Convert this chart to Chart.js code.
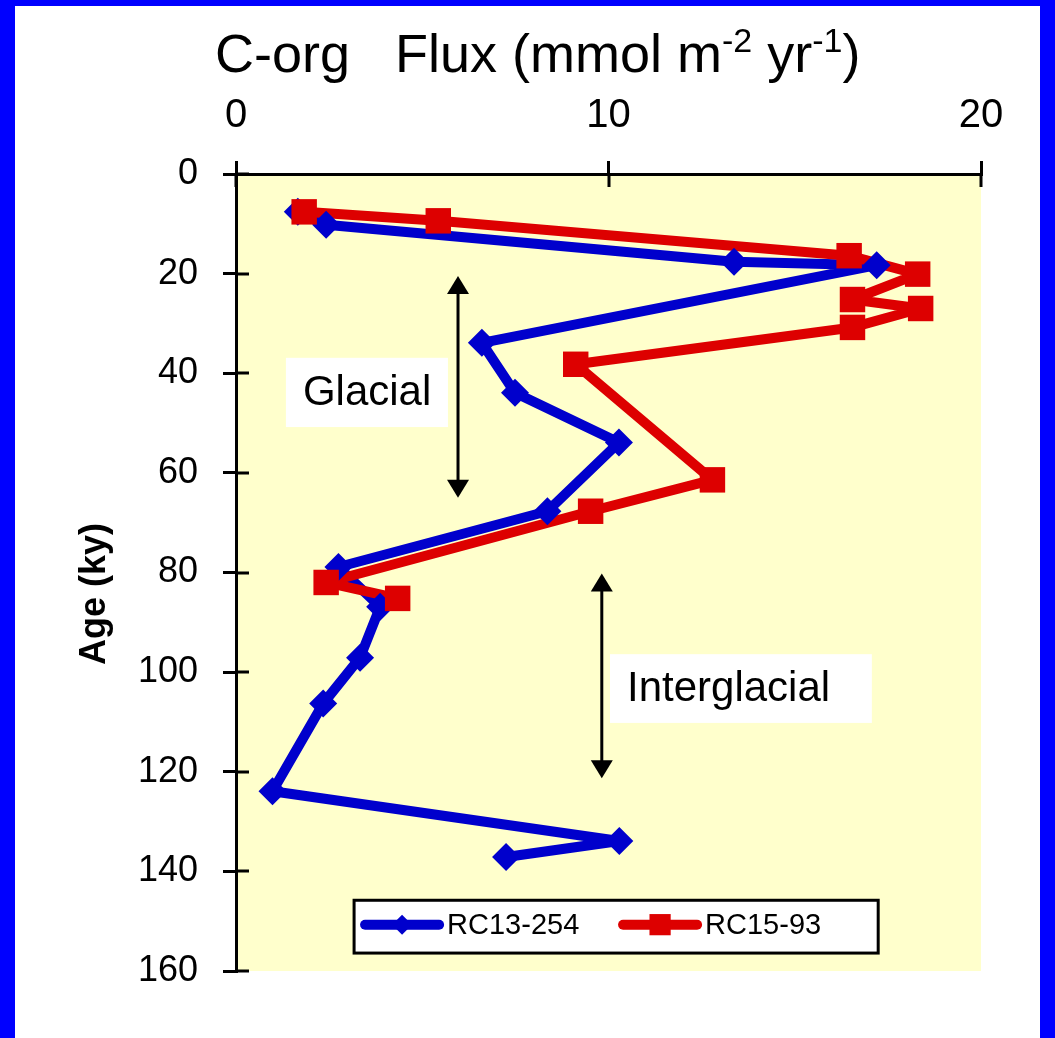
<!DOCTYPE html>
<html>
<head>
<meta charset="utf-8">
<title>C-org Flux</title>
<script src="https://cdn.jsdelivr.net/npm/chart.js@4/dist/chart.umd.min.js"></script>
<style>
  html, body { margin: 0; padding: 0; background: #ffffff; }
  #wrap { position: relative; width: 1055px; height: 1038px; overflow: hidden; background: #ffffff; }
  #chart { position: absolute; left: 0; top: 0; }
  .edge { position: absolute; background: #0000ff; pointer-events: none; }
</style>
</head>
<body>
<div id="wrap">
  <canvas id="chart" width="1055" height="1038"></canvas>
  <div class="edge" style="left:0;top:0;width:15px;height:1038px"></div>
  <div class="edge" style="left:0;top:0;width:1055px;height:6px"></div>
  <div class="edge" style="left:1040px;top:0;width:15px;height:1038px"></div>
</div>
<script>
// Core RC13-254: age (ky) and organic carbon flux (mmol m-2 yr-1)
const rc13Age  = [7.6, 10.2, 17.6, 18.3, 33.9, 43.9, 53.9, 67.7, 78.9, 86.9, 97.1, 106.3, 123.9, 133.9, 137.1];
const rc13Flux = [1.66, 2.42, 13.37, 17.2, 6.6, 7.49, 10.28, 8.36, 2.75, 3.87, 3.33, 2.34, 0.98, 10.29, 7.25];

// Core RC15-93
const rc15Age  = [7.6, 9.4, 16.4, 20.1, 25.2, 27.0, 30.8, 38.2, 61.4, 67.7, 82.0, 85.2];
const rc15Flux = [1.83, 5.43, 16.46, 18.3, 16.55, 18.38, 16.55, 9.12, 12.79, 9.52, 2.42, 4.34];

const seriesNames = ['RC13-254', 'RC15-93'];
const fluxTicks = [0, 10, 20];
const ageTicks = [0, 20, 40, 60, 80, 100, 120, 140, 160];

const titleParts = [
  { text: 'C-org   Flux (mmol m', sup: false },
  { text: '-2', sup: true },
  { text: ' yr', sup: false },
  { text: '-1', sup: true },
  { text: ')', sup: false }
];
const ageTitle = 'Age (ky)';
const periodLabels = ['Glacial', 'Interglacial'];

const FONT = '"Liberation Sans", Arial, Helvetica, sans-serif';
const BLUE = '#0000cc';
const RED = '#dd0000';

const toPoints = (xs, ys) => xs.map((v, i) => ({ x: v, y: ys[i] }));

// Lines are drawn first for both cores, markers on top of all lines.
const lineStyle = { showLine: true, pointRadius: 0, borderWidth: 10, borderJoinStyle: 'round', borderCapStyle: 'round', fill: false };
const datasets = [
  Object.assign({ label: seriesNames[0] + ' line', data: toPoints(rc13Flux, rc13Age), borderColor: BLUE, order: 4 }, lineStyle),
  Object.assign({ label: seriesNames[1] + ' line', data: toPoints(rc15Flux, rc15Age), borderColor: RED, order: 3 }, lineStyle),
  { label: seriesNames[0], data: toPoints(rc13Flux, rc13Age), showLine: false, pointStyle: 'rectRot', pointRadius: 14,
    pointBackgroundColor: BLUE, pointBorderColor: BLUE, pointBorderWidth: 0, borderColor: BLUE, backgroundColor: BLUE, order: 2 },
  { label: seriesNames[1], data: toPoints(rc15Flux, rc15Age), showLine: false, pointStyle: 'rect', pointRadius: 18,
    pointBackgroundColor: RED, pointBorderColor: RED, pointBorderWidth: 0, borderColor: RED, backgroundColor: RED, order: 1 }
];

// Annotation layout, in axis units (flux, age)
const notes = {
  glacial:      { box: [1.34, 36.9, 5.69, 50.8], arrowX: 5.96, arrowFrom: 20.5, arrowTo: 65.0 },
  interglacial: { box: [10.04, 96.4, 17.07, 110.2], arrowX: 9.82, arrowFrom: 80.2, arrowTo: 121.3 }
};

const plotBackground = {
  id: 'plotBackground',
  beforeDraw(chart) {
    const { ctx, chartArea: a } = chart;
    ctx.save();
    ctx.fillStyle = '#ffffcc';
    ctx.fillRect(a.left, a.top, a.right - a.left, a.bottom - a.top);
    ctx.restore();
  }
};

// Tick marks that cross the axis line into the plot area
const innerTicks = {
  id: 'innerTicks',
  afterDraw(chart) {
    const { ctx, chartArea: a, scales } = chart;
    ctx.save();
    ctx.strokeStyle = '#000';
    ctx.lineWidth = 3;
    ctx.beginPath();
    fluxTicks.forEach(v => {
      const px = Math.round(scales.x.getPixelForValue(v));
      ctx.moveTo(px, a.top); ctx.lineTo(px, a.top + 13);
    });
    ageTicks.forEach(v => {
      const py = Math.round(scales.y.getPixelForValue(v));
      ctx.moveTo(a.left, py); ctx.lineTo(a.left + 13, py);
    });
    ctx.stroke();
    ctx.restore();
  }
};

function drawArrow(ctx, x, y0, y1) {
  const head = 18, half = 11;
  ctx.beginPath();
  ctx.moveTo(x, y0 + head - 2); ctx.lineTo(x, y1 - head + 2);
  ctx.stroke();
  ctx.beginPath();
  ctx.moveTo(x, y0); ctx.lineTo(x - half, y0 + head); ctx.lineTo(x + half, y0 + head); ctx.closePath();
  ctx.fill();
  ctx.beginPath();
  ctx.moveTo(x, y1); ctx.lineTo(x - half, y1 - head); ctx.lineTo(x + half, y1 - head); ctx.closePath();
  ctx.fill();
}

const periodNotes = {
  id: 'periodNotes',
  beforeDatasetsDraw(chart) {
    const { ctx, scales: { x, y } } = chart;
    ctx.save();
    [notes.glacial, notes.interglacial].forEach((n, i) => {
      const x0 = x.getPixelForValue(n.box[0]), y0 = y.getPixelForValue(n.box[1]);
      const x1 = x.getPixelForValue(n.box[2]), y1 = y.getPixelForValue(n.box[3]);
      ctx.fillStyle = '#ffffff';
      ctx.fillRect(x0, y0, x1 - x0, y1 - y0);
      ctx.fillStyle = '#000';
      ctx.font = '42px ' + FONT;
      ctx.textAlign = 'left';
      ctx.textBaseline = 'middle';
      ctx.fillText(periodLabels[i], x0 + 17, (y0 + y1) / 2 + 1);
      ctx.strokeStyle = '#000';
      ctx.lineWidth = 3;
      drawArrow(ctx, x.getPixelForValue(n.arrowX), y.getPixelForValue(n.arrowFrom), y.getPixelForValue(n.arrowTo));
    });
    ctx.restore();
  }
};

const titles = {
  id: 'titles',
  afterDraw(chart) {
    const { ctx } = chart;
    ctx.save();
    ctx.fillStyle = '#000';
    ctx.textBaseline = 'alphabetic';
    ctx.textAlign = 'left';
    let cx = 215;
    const base = 72;
    titleParts.forEach(p => {
      ctx.font = (p.sup ? '34px ' : '54px ') + FONT;
      ctx.fillText(p.text, cx, p.sup ? base - 20 : base);
      cx += ctx.measureText(p.text).width;
    });
    // vertical axis title
    ctx.translate(95, 594);
    ctx.rotate(-Math.PI / 2);
    ctx.font = 'bold 36px ' + FONT;
    ctx.textAlign = 'center';
    ctx.textBaseline = 'middle';
    ctx.fillText(ageTitle, 0, 0);
    ctx.restore();
  }
};

const boxLegend = {
  id: 'boxLegend',
  afterDraw(chart) {
    const { ctx, scales: { x, y } } = chart;
    const left = x.getPixelForValue(3.17), right = x.getPixelForValue(17.24);
    const top = y.getPixelForValue(145.8), bottom = y.getPixelForValue(156.4);
    ctx.save();
    ctx.fillStyle = '#ffffff';
    ctx.fillRect(left, top, right - left, bottom - top);
    ctx.strokeStyle = '#000';
    ctx.lineWidth = 3;
    ctx.strokeRect(left, top, right - left, bottom - top);
    const cy = (top + bottom) / 2 - 2;
    const entries = [
      { ds: chart.data.datasets[2], x0: left + 7, r: 10 },
      { ds: chart.data.datasets[3], x0: left + 265, r: 15 }
    ];
    entries.forEach(e => {
      ctx.strokeStyle = e.ds.borderColor;
      ctx.lineWidth = 10;
      ctx.lineCap = 'round';
      ctx.beginPath();
      ctx.moveTo(e.x0 + 4, cy); ctx.lineTo(e.x0 + 78, cy);
      ctx.stroke();
      ctx.fillStyle = e.ds.pointBackgroundColor;
      Chart.helpers.drawPoint(ctx, { pointStyle: e.ds.pointStyle, radius: e.r, borderWidth: 0, rotation: 0 }, e.x0 + 41, cy);
      ctx.fillStyle = '#000';
      ctx.font = '29px ' + FONT;
      ctx.textAlign = 'left';
      ctx.textBaseline = 'middle';
      ctx.fillText(e.ds.label, e.x0 + 86, cy + 1);
    });
    ctx.restore();
  }
};

new Chart(document.getElementById('chart'), {
  type: 'scatter',
  data: { datasets },
  options: {
    responsive: false,
    animation: false,
    devicePixelRatio: 1,
    layout: { padding: { left: 0, top: 0, right: 74, bottom: 67 } },
    plugins: { legend: { display: false }, title: { display: false }, tooltip: { enabled: false } },
    scales: {
      x: {
        type: 'linear', position: 'top', min: 0, max: 20,
        afterBuildTicks: s => { s.ticks = fluxTicks.map(v => ({ value: v })); },
        afterFit: s => { s.height = 174; },
        ticks: { color: '#000', font: { family: FONT, size: 40 }, padding: 21, maxRotation: 0 },
        grid: { drawOnChartArea: false, tickLength: 13, color: '#000', lineWidth: 3 },
        border: { color: '#000', width: 3 }
      },
      y: {
        type: 'linear', position: 'left', reverse: true, min: 0, max: 160,
        afterBuildTicks: s => { s.ticks = ageTicks.map(v => ({ value: v })); },
        afterFit: s => { s.width = 236; },
        ticks: { color: '#000', font: { family: FONT, size: 36 }, padding: 25 },
        grid: { drawOnChartArea: false, tickLength: 13, color: '#000', lineWidth: 3 },
        border: { color: '#000', width: 3 }
      }
    }
  },
  plugins: [plotBackground, periodNotes, innerTicks, titles, boxLegend]
});
</script>
</body>
</html>
